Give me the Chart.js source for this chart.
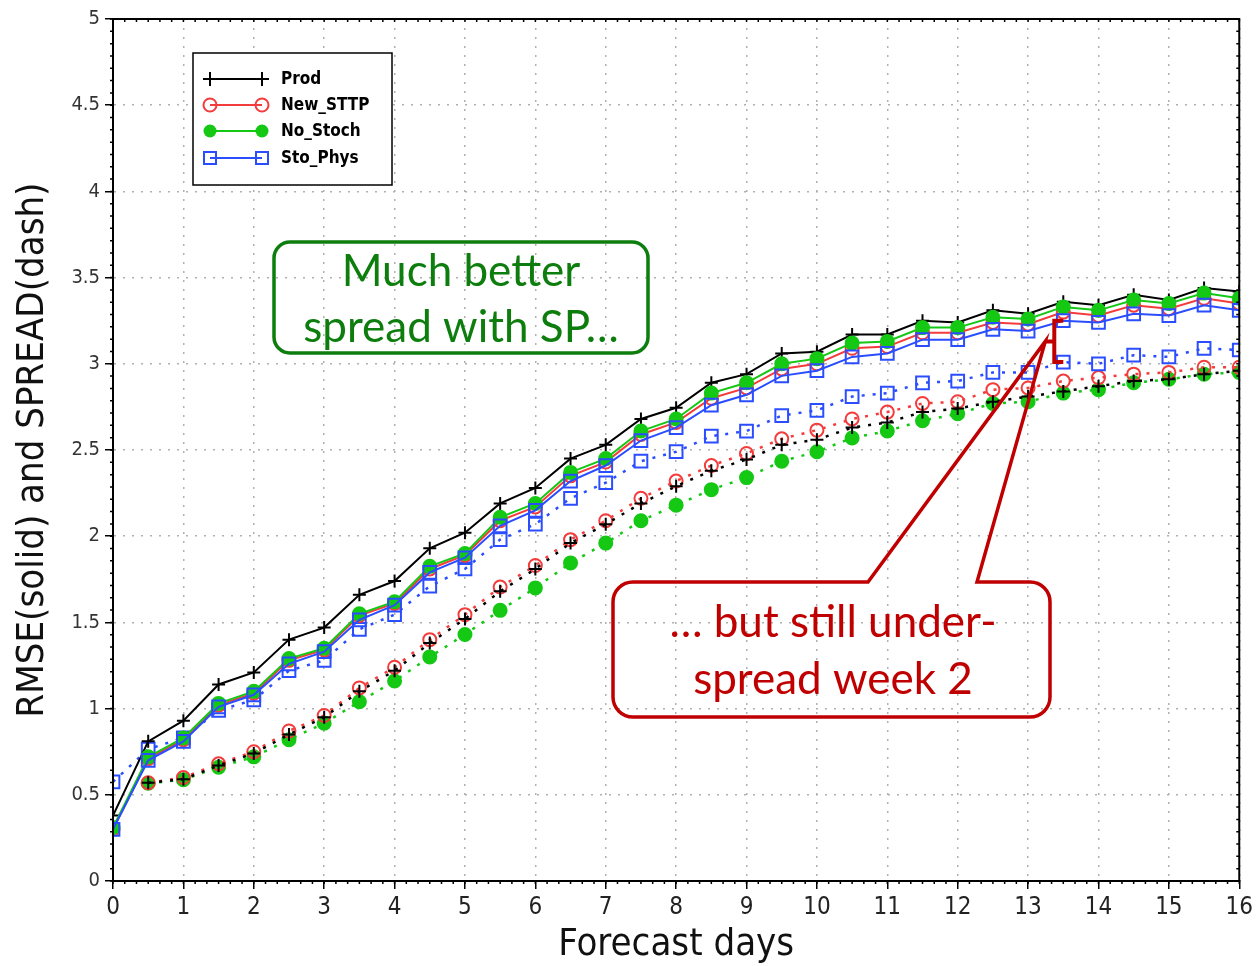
<!DOCTYPE html>
<html>
<head>
<meta charset="utf-8">
<title>RMSE and spread</title>
<script src="https://cdn.jsdelivr.net/npm/chart.js@4.4.1/dist/chart.umd.min.js"></script>
<style>
  html, body { margin: 0; padding: 0; background: #fff; }
</style>
</head>
<body>
<canvas id="myChart" width="1257" height="966"></canvas>
<script>
// forecast lead times (days)
const days = [0, 0.5, 1, 1.5, 2, 2.5, 3, 3.5, 4, 4.5, 5, 5.5, 6, 6.5, 7, 7.5, 8,
    8.5, 9, 9.5, 10, 10.5, 11, 11.5, 12, 12.5, 13, 13.5, 14, 14.5, 15, 15.5, 16];
const dayTicks = [0, 1, 2, 3, 4, 5, 6, 7, 8, 9, 10, 11, 12, 13, 14, 15, 16];
const valueTicks = [0, 0.5, 1, 1.5, 2, 2.5, 3, 3.5, 4, 4.5, 5];

// RMSE (solid)
const prodRmse = [0.38, 0.81, 0.93, 1.14, 1.21, 1.40, 1.47, 1.66, 1.74, 1.93, 2.02, 2.19, 2.28, 2.45, 2.53, 2.68, 2.745,
    2.89, 2.94, 3.06, 3.07, 3.17, 3.17, 3.25, 3.24, 3.31, 3.29, 3.36, 3.34, 3.40, 3.37, 3.44, 3.42];
const newSttpRmse = [0.30, 0.71, 0.82, 1.02, 1.09, 1.28, 1.34, 1.54, 1.61, 1.81, 1.89, 2.09, 2.17, 2.35, 2.43, 2.59, 2.66,
    2.80, 2.86, 2.97, 3.00, 3.09, 3.10, 3.18, 3.18, 3.24, 3.23, 3.30, 3.28, 3.34, 3.32, 3.38, 3.35];
const noStochRmse = [0.31, 0.72, 0.83, 1.03, 1.10, 1.29, 1.35, 1.55, 1.62, 1.825, 1.90, 2.11, 2.19, 2.37, 2.45, 2.61, 2.68,
    2.83, 2.89, 3.00, 3.03, 3.12, 3.13, 3.21, 3.21, 3.27, 3.26, 3.33, 3.31, 3.37, 3.35, 3.41, 3.38];
const stoPhysRmse = [0.30, 0.70, 0.81, 1.01, 1.08, 1.26, 1.33, 1.515, 1.60, 1.79, 1.875, 2.06, 2.15, 2.32, 2.41, 2.555, 2.63,
    2.76, 2.82, 2.93, 2.96, 3.04, 3.06, 3.14, 3.14, 3.20, 3.19, 3.25, 3.24, 3.29, 3.28, 3.34, 3.31];

// ensemble spread (dash)
const prodSpread = [null, 0.57, 0.59, 0.67, 0.74, 0.85, 0.95, 1.10, 1.22, 1.38, 1.52, 1.68, 1.81, 1.96, 2.07, 2.19, 2.29,
    2.38, 2.445, 2.53, 2.56, 2.63, 2.66, 2.72, 2.74, 2.78, 2.81, 2.84, 2.87, 2.90, 2.91, 2.94, 2.96];
const newSttpSpread = [null, 0.57, 0.60, 0.68, 0.75, 0.87, 0.96, 1.12, 1.24, 1.40, 1.545, 1.705, 1.83, 1.98, 2.09, 2.22, 2.32,
    2.41, 2.48, 2.565, 2.615, 2.68, 2.72, 2.77, 2.78, 2.85, 2.86, 2.90, 2.92, 2.94, 2.95, 2.98, 2.98];
const noStochSpread = [null, 0.567, 0.587, 0.66, 0.72, 0.82, 0.915, 1.04, 1.16, 1.30, 1.43, 1.57, 1.70, 1.845, 1.96, 2.09, 2.18,
    2.27, 2.34, 2.435, 2.49, 2.57, 2.61, 2.67, 2.71, 2.77, 2.78, 2.83, 2.85, 2.89, 2.91, 2.94, 2.95];
const stoPhysSpread = [0.575, 0.765, 0.83, 0.99, 1.05, 1.22, 1.28, 1.46, 1.545, 1.71, 1.81, 1.98, 2.07, 2.22, 2.31, 2.435, 2.49,
    2.58, 2.61, 2.70, 2.73, 2.81, 2.83, 2.89, 2.90, 2.95, 2.95, 3.01, 3.00, 3.05, 3.04, 3.09, 3.08];

const BLACK = '#000000', RED = '#f43c3c', GREEN = '#14c814', BLUE = '#2a4dff';
const axisFont = "'DejaVu Sans Condensed', 'Liberation Sans Narrow', sans-serif";
const noteFont = "Lato, 'Open Sans', sans-serif";

const experiments = [
    {label: 'Prod', color: BLACK, style: 'cross', filled: false},
    {label: 'New_STTP', color: RED, style: 'circle', filled: false},
    {label: 'No_Stoch', color: GREEN, style: 'circle', filled: true},
    {label: 'Sto_Phys', color: BLUE, style: 'rect', filled: false}
];

function series(exp, values, spread) {
    return {
        label: exp.label + (spread ? ' spread' : ''),
        data: days.map((d, i) => ({x: d, y: values[i]})),
        borderColor: exp.color,
        backgroundColor: exp.filled ? exp.color : 'transparent',
        pointStyle: exp.style,
        pointRadius: exp.style === 'rect' ? 9 : 6.5,
        pointBorderWidth: 2,
        borderWidth: spread ? 2.5 : 2,
        borderDash: spread ? [3, 8] : [],
        tension: 0,
        clip: 0
    };
}

// first dataset ends up drawn on top
const datasets = [
    series(experiments[3], stoPhysRmse, false),
    series(experiments[2], noStochRmse, false),
    series(experiments[1], newSttpRmse, false),
    series(experiments[0], prodRmse, false),
    series(experiments[3], stoPhysSpread, true),
    series(experiments[0], prodSpread, true),
    series(experiments[1], newSttpSpread, true),
    series(experiments[2], noStochSpread, true)
];

function drawMarker(ctx, exp, x, y) {
    ctx.strokeStyle = exp.color;
    ctx.fillStyle = exp.color;
    ctx.lineWidth = 2;
    ctx.beginPath();
    if (exp.style === 'cross') {
        ctx.moveTo(x - 7, y); ctx.lineTo(x + 7, y);
        ctx.moveTo(x, y - 7); ctx.lineTo(x, y + 7);
        ctx.stroke();
    } else if (exp.style === 'rect') {
        ctx.rect(x - 6, y - 6, 12, 12);
        ctx.stroke();
    } else {
        ctx.arc(x, y, 6.5, 0, Math.PI * 2);
        if (exp.filled) ctx.fill(); else ctx.stroke();
    }
}

// frame, minor ticks, legend box and the two notes
const decorations = {
    id: 'decorations',
    afterDatasetsDraw(chart) {
        const {ctx, chartArea: a, scales: {x, y}} = chart;
        ctx.save();

        ctx.strokeStyle = '#000';
        ctx.lineWidth = 2;
        ctx.strokeRect(a.left, a.top, a.right - a.left, a.bottom - a.top);

        ctx.lineWidth = 1.5;
        ctx.beginPath();
        for (let k = 0; k <= 16 * 6; k++) {
            const px = x.getPixelForValue(k / 6);
            ctx.moveTo(px, a.bottom); ctx.lineTo(px, a.bottom + 3);
            ctx.moveTo(px, a.top); ctx.lineTo(px, a.top + 3);
        }
        for (let k = 0; k <= 70; k++) {
            const py = y.getPixelForValue(k * 5 / 70);
            ctx.moveTo(a.left, py); ctx.lineTo(a.left - 3, py);
            ctx.moveTo(a.right, py); ctx.lineTo(a.right - 3, py);
        }
        ctx.stroke();

        // legend
        const lx = 193, ly = 53;
        ctx.fillStyle = '#fff';
        ctx.fillRect(lx, ly, 199, 132);
        ctx.strokeStyle = '#000';
        ctx.lineWidth = 1.5;
        ctx.strokeRect(lx, ly, 199, 132);
        const rows = [79, 105, 131, 158];
        experiments.forEach((exp, i) => {
            const ry = rows[i];
            ctx.strokeStyle = exp.color;
            ctx.lineWidth = 2;
            ctx.beginPath();
            ctx.moveTo(210, ry); ctx.lineTo(262, ry);
            ctx.stroke();
            drawMarker(ctx, exp, 210, ry);
            drawMarker(ctx, exp, 262, ry);
            ctx.fillStyle = '#000';
            ctx.font = 'bold 17px ' + axisFont;
            ctx.textAlign = 'left';
            ctx.textBaseline = 'middle';
            ctx.fillText(exp.label, 281, ry + 1);
        });

        // green note
        ctx.strokeStyle = '#0d7d0d';
        ctx.lineWidth = 3.5;
        ctx.beginPath();
        ctx.roundRect(274, 242, 374, 111, 16);
        ctx.stroke();
        ctx.fillStyle = '#0d7d0d';
        ctx.font = '44px ' + noteFont;
        ctx.textAlign = 'center';
        ctx.textBaseline = 'middle';
        ctx.fillText('Much better', 461, 272);
        ctx.fillText('spread with SP…', 461, 328);

        // bracket between Sto_Phys RMSE and spread at day 13.5
        const i = days.indexOf(13.5);
        const bx = x.getPixelForValue(13.5) - 9;
        const yTop = y.getPixelForValue(stoPhysRmse[i]);
        const yBot = y.getPixelForValue(stoPhysSpread[i]);
        const yMid = (yTop + yBot) / 2;
        const red = '#c00000';
        ctx.strokeStyle = red;
        ctx.lineWidth = 4;
        ctx.lineJoin = 'miter';
        ctx.beginPath();
        ctx.moveTo(bx + 9, yTop); ctx.lineTo(bx, yTop);
        ctx.lineTo(bx, yBot); ctx.lineTo(bx + 9, yBot);
        ctx.moveTo(bx, yMid); ctx.lineTo(bx - 9, yMid);
        ctx.stroke();

        // red callout pointing at the bracket
        const L = 613, T = 582, R = 1050, B = 717, r = 20;
        ctx.lineWidth = 3.5;
        ctx.beginPath();
        ctx.moveTo(L + r, T);
        ctx.lineTo(868, T);
        ctx.lineTo(bx - 9, yMid);
        ctx.lineTo(977, T);
        ctx.lineTo(R - r, T);
        ctx.arcTo(R, T, R, T + r, r);
        ctx.lineTo(R, B - r);
        ctx.arcTo(R, B, R - r, B, r);
        ctx.lineTo(L + r, B);
        ctx.arcTo(L, B, L, B - r, r);
        ctx.lineTo(L, T + r);
        ctx.arcTo(L, T, L + r, T, r);
        ctx.closePath();
        ctx.stroke();
        ctx.fillStyle = red;
        ctx.fillText('… but still under-', 833, 623);
        ctx.fillText('spread week 2', 833, 680);

        ctx.restore();
    }
};

const gridStyle = {
    color: '#b0b0b0',
    lineWidth: 1.5,
    tickColor: '#000',
    tickWidth: 1.5,
    tickBorderDash: [],
    tickLength: 8
};
const axisBorder = {display: true, color: '#000', width: 2, dash: [2, 7]};

const ctx = document.getElementById('myChart').getContext('2d');
const myChart = new Chart(ctx, {
    type: 'line',
    data: {datasets: datasets},
    options: {
        responsive: false,
        animation: false,
        events: [],
        layout: {padding: {top: 19, right: 17, left: 0, bottom: 0}},
        plugins: {legend: {display: false}, tooltip: {enabled: false}},
        scales: {
            x: {
                type: 'linear',
                min: 0,
                max: 16,
                afterBuildTicks: s => { s.ticks = dayTicks.map(v => ({value: v})); },
                afterFit: s => { s.height = 85; },
                grid: gridStyle,
                border: axisBorder,
                ticks: {color: '#222', padding: 4, font: {family: axisFont, size: 24}, maxRotation: 0,
                    callback: v => String(v)},
                title: {display: true, text: 'Forecast days', color: '#111',
                    font: {family: axisFont, size: 38, lineHeight: 1}, padding: {top: 0, bottom: 2}}
            },
            y: {
                min: 0,
                max: 5,
                afterBuildTicks: s => { s.ticks = valueTicks.map(v => ({value: v})); },
                afterFit: s => { s.width = 113; },
                grid: gridStyle,
                border: axisBorder,
                ticks: {color: '#333', padding: 5, font: {family: axisFont, size: 20},
                    callback: v => String(v)},
                title: {display: true, text: 'RMSE(solid) and SPREAD(dash)', color: '#111',
                    font: {family: axisFont, size: 38, lineHeight: 1}, padding: {top: 14, bottom: 0}}
            }
        }
    },
    plugins: [decorations]
});
</script>
</body>
</html>
